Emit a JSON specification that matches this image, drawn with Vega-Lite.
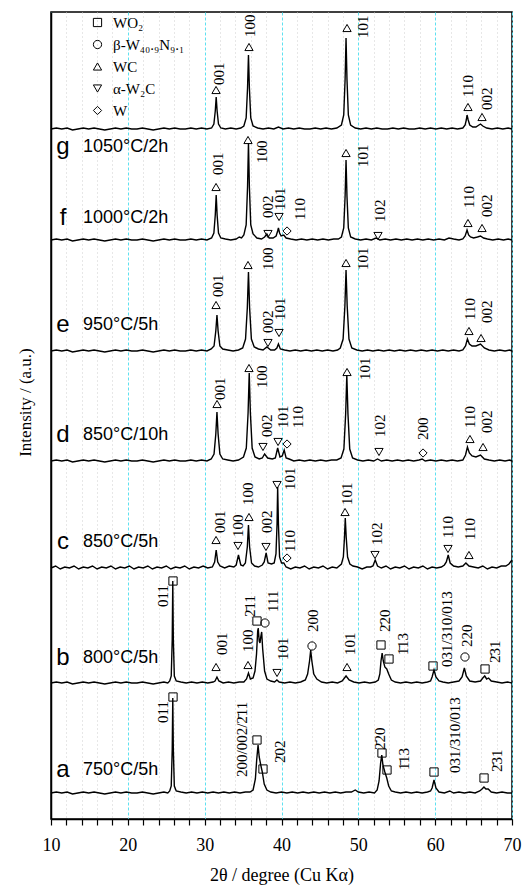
{
"$schema": "https://vega.github.io/schema/vega-lite/v6.json",
"width": 461, "height": 807,
"autosize": {"type": "none"},
"padding": {"left": 51, "top": 12, "right": 10, "bottom": 67},
"background": "white",
"config": {"view": {"stroke": "black", "strokeWidth": 1.5}, "font": "Liberation Serif"},
"datasets": {
"xrd": [
{"s":"g","x":10,"y":690},{"s":"g","x":10.7,"y":691},{"s":"g","x":11.4,"y":690},{"s":"g","x":12.1,"y":691},{"s":"g","x":12.8,"y":689},{"s":"g","x":13.5,"y":690},{"s":"g","x":14.2,"y":691},{"s":"g","x":14.9,"y":690},{"s":"g","x":15.6,"y":691},{"s":"g","x":16.3,"y":690},{"s":"g","x":17,"y":689},{"s":"g","x":17.7,"y":690},{"s":"g","x":18.4,"y":691},{"s":"g","x":19.1,"y":690},{"s":"g","x":19.8,"y":691},{"s":"g","x":20.5,"y":690},{"s":"g","x":21.2,"y":690},{"s":"g","x":21.9,"y":691},{"s":"g","x":22.6,"y":690},{"s":"g","x":23.3,"y":689},{"s":"g","x":24,"y":690},{"s":"g","x":24.7,"y":691},{"s":"g","x":25.4,"y":690},{"s":"g","x":26.1,"y":691},{"s":"g","x":26.8,"y":690},{"s":"g","x":27.5,"y":690},{"s":"g","x":28.2,"y":691},{"s":"g","x":28.9,"y":690},{"s":"g","x":29.6,"y":691},{"s":"g","x":30.3,"y":690},{"s":"g","x":30.9,"y":691},{"s":"g","x":31.2,"y":695},{"s":"g","x":31.38,"y":708},{"s":"g","x":31.5,"y":722},{"s":"g","x":31.62,"y":708},{"s":"g","x":31.8,"y":695},{"s":"g","x":32.1,"y":691},{"s":"g","x":32.7,"y":690},{"s":"g","x":33.4,"y":691},{"s":"g","x":34.1,"y":690},{"s":"g","x":34.7,"y":691},{"s":"g","x":35.1,"y":693},{"s":"g","x":35.4,"y":701},{"s":"g","x":35.58,"y":731},{"s":"g","x":35.7,"y":764},{"s":"g","x":35.82,"y":731},{"s":"g","x":36.0,"y":701},{"s":"g","x":36.3,"y":693},{"s":"g","x":36.9,"y":691},{"s":"g","x":37.6,"y":690},{"s":"g","x":38.3,"y":691},{"s":"g","x":39.0,"y":690},{"s":"g","x":39.6,"y":692},{"s":"g","x":40.2,"y":690},{"s":"g","x":40.9,"y":691},{"s":"g","x":41.6,"y":690},{"s":"g","x":42.3,"y":691},{"s":"g","x":43,"y":690},{"s":"g","x":43.7,"y":690},{"s":"g","x":44.4,"y":691},{"s":"g","x":45.1,"y":690},{"s":"g","x":45.8,"y":691},{"s":"g","x":46.5,"y":690},{"s":"g","x":47.2,"y":691},{"s":"g","x":47.8,"y":694},{"s":"g","x":48.1,"y":704},{"s":"g","x":48.28,"y":740},{"s":"g","x":48.4,"y":781},{"s":"g","x":48.52,"y":740},{"s":"g","x":48.7,"y":704},{"s":"g","x":49.0,"y":694},{"s":"g","x":49.6,"y":691},{"s":"g","x":50.3,"y":690},{"s":"g","x":51,"y":691},{"s":"g","x":51.7,"y":690},{"s":"g","x":52.4,"y":691},{"s":"g","x":53.1,"y":690},{"s":"g","x":53.8,"y":690},{"s":"g","x":54.5,"y":691},{"s":"g","x":55.2,"y":690},{"s":"g","x":55.9,"y":691},{"s":"g","x":56.6,"y":690},{"s":"g","x":57.3,"y":690},{"s":"g","x":58,"y":691},{"s":"g","x":58.7,"y":690},{"s":"g","x":59.4,"y":691},{"s":"g","x":60.1,"y":690},{"s":"g","x":60.8,"y":691},{"s":"g","x":61.5,"y":690},{"s":"g","x":62.2,"y":691},{"s":"g","x":62.9,"y":690},{"s":"g","x":63.6,"y":691},{"s":"g","x":63.9,"y":694},{"s":"g","x":64.05,"y":699},{"s":"g","x":64.15,"y":704},{"s":"g","x":64.3,"y":699},{"s":"g","x":64.5,"y":694},{"s":"g","x":64.9,"y":692},{"s":"g","x":65.3,"y":692},{"s":"g","x":65.7,"y":694},{"s":"g","x":65.9,"y":695},{"s":"g","x":66.2,"y":693},{"s":"g","x":66.7,"y":691},{"s":"g","x":67.4,"y":690},{"s":"g","x":68.1,"y":691},{"s":"g","x":68.8,"y":690},{"s":"g","x":69.5,"y":691},{"s":"g","x":70,"y":690},
{"s":"f","x":10,"y":579},{"s":"f","x":10.7,"y":580},{"s":"f","x":11.4,"y":579},{"s":"f","x":12.1,"y":580},{"s":"f","x":12.8,"y":578},{"s":"f","x":13.5,"y":579},{"s":"f","x":14.2,"y":580},{"s":"f","x":14.9,"y":579},{"s":"f","x":15.6,"y":580},{"s":"f","x":16.3,"y":579},{"s":"f","x":17,"y":578},{"s":"f","x":17.7,"y":579},{"s":"f","x":18.4,"y":580},{"s":"f","x":19.1,"y":579},{"s":"f","x":19.8,"y":580},{"s":"f","x":20.5,"y":579},{"s":"f","x":21.2,"y":579},{"s":"f","x":21.9,"y":580},{"s":"f","x":22.6,"y":579},{"s":"f","x":23.3,"y":578},{"s":"f","x":24,"y":579},{"s":"f","x":24.7,"y":580},{"s":"f","x":25.4,"y":579},{"s":"f","x":26.1,"y":580},{"s":"f","x":26.8,"y":579},{"s":"f","x":27.5,"y":579},{"s":"f","x":28.2,"y":580},{"s":"f","x":28.9,"y":579},{"s":"f","x":29.6,"y":580},{"s":"f","x":30.3,"y":579},{"s":"f","x":30.9,"y":581},{"s":"f","x":31.2,"y":586},{"s":"f","x":31.38,"y":604},{"s":"f","x":31.5,"y":624},{"s":"f","x":31.62,"y":604},{"s":"f","x":31.8,"y":586},{"s":"f","x":32.1,"y":581},{"s":"f","x":32.7,"y":580},{"s":"f","x":33.4,"y":579},{"s":"f","x":34.1,"y":580},{"s":"f","x":34.5,"y":582},{"s":"f","x":34.8,"y":581},{"s":"f","x":35.1,"y":584},{"s":"f","x":35.4,"y":594},{"s":"f","x":35.58,"y":632},{"s":"f","x":35.7,"y":676},{"s":"f","x":35.82,"y":632},{"s":"f","x":36.0,"y":594},{"s":"f","x":36.3,"y":585},{"s":"f","x":36.8,"y":581},{"s":"f","x":37.4,"y":580},{"s":"f","x":37.8,"y":582},{"s":"f","x":38.1,"y":585},{"s":"f","x":38.4,"y":581},{"s":"f","x":38.9,"y":581},{"s":"f","x":39.3,"y":583},{"s":"f","x":39.5,"y":588},{"s":"f","x":39.6,"y":591},{"s":"f","x":39.75,"y":586},{"s":"f","x":39.95,"y":583},{"s":"f","x":40.3,"y":584},{"s":"f","x":40.6,"y":581},{"s":"f","x":41.2,"y":580},{"s":"f","x":41.9,"y":579},{"s":"f","x":42.6,"y":580},{"s":"f","x":43.3,"y":579},{"s":"f","x":44,"y":580},{"s":"f","x":44.7,"y":579},{"s":"f","x":45.4,"y":580},{"s":"f","x":46.1,"y":579},{"s":"f","x":46.8,"y":580},{"s":"f","x":47.4,"y":580},{"s":"f","x":47.8,"y":582},{"s":"f","x":48.1,"y":591},{"s":"f","x":48.28,"y":623},{"s":"f","x":48.4,"y":659},{"s":"f","x":48.52,"y":623},{"s":"f","x":48.7,"y":591},{"s":"f","x":49.0,"y":582},{"s":"f","x":49.6,"y":580},{"s":"f","x":50.3,"y":579},{"s":"f","x":51,"y":580},{"s":"f","x":51.7,"y":579},{"s":"f","x":52.3,"y":581},{"s":"f","x":52.8,"y":579},{"s":"f","x":53.5,"y":580},{"s":"f","x":54.2,"y":579},{"s":"f","x":54.9,"y":580},{"s":"f","x":55.6,"y":579},{"s":"f","x":56.3,"y":580},{"s":"f","x":57,"y":579},{"s":"f","x":57.7,"y":580},{"s":"f","x":58.4,"y":579},{"s":"f","x":59.1,"y":580},{"s":"f","x":59.8,"y":579},{"s":"f","x":60.5,"y":580},{"s":"f","x":61.2,"y":579},{"s":"f","x":61.8,"y":581},{"s":"f","x":62.4,"y":580},{"s":"f","x":63.1,"y":579},{"s":"f","x":63.6,"y":580},{"s":"f","x":63.9,"y":583},{"s":"f","x":64.15,"y":589},{"s":"f","x":64.35,"y":584},{"s":"f","x":64.6,"y":582},{"s":"f","x":65.0,"y":581},{"s":"f","x":65.5,"y":582},{"s":"f","x":65.9,"y":583},{"s":"f","x":66.3,"y":581},{"s":"f","x":66.8,"y":580},{"s":"f","x":67.5,"y":579},{"s":"f","x":68.2,"y":580},{"s":"f","x":68.9,"y":579},{"s":"f","x":69.5,"y":580},{"s":"f","x":70,"y":579},
{"s":"e","x":10,"y":468},{"s":"e","x":10.7,"y":469},{"s":"e","x":11.4,"y":468},{"s":"e","x":12.1,"y":469},{"s":"e","x":12.8,"y":467},{"s":"e","x":13.5,"y":468},{"s":"e","x":14.2,"y":469},{"s":"e","x":14.9,"y":468},{"s":"e","x":15.6,"y":469},{"s":"e","x":16.3,"y":468},{"s":"e","x":17,"y":467},{"s":"e","x":17.7,"y":468},{"s":"e","x":18.4,"y":469},{"s":"e","x":19.1,"y":468},{"s":"e","x":19.8,"y":469},{"s":"e","x":20.5,"y":468},{"s":"e","x":21.2,"y":468},{"s":"e","x":21.9,"y":469},{"s":"e","x":22.6,"y":468},{"s":"e","x":23.3,"y":467},{"s":"e","x":24,"y":468},{"s":"e","x":24.7,"y":469},{"s":"e","x":25.4,"y":468},{"s":"e","x":26.1,"y":469},{"s":"e","x":26.8,"y":468},{"s":"e","x":27.5,"y":468},{"s":"e","x":28.2,"y":469},{"s":"e","x":28.9,"y":468},{"s":"e","x":29.6,"y":469},{"s":"e","x":30.3,"y":468},{"s":"e","x":30.85,"y":470},{"s":"e","x":31.22,"y":473},{"s":"e","x":31.45,"y":488},{"s":"e","x":31.6,"y":504},{"s":"e","x":31.75,"y":488},{"s":"e","x":31.98,"y":473},{"s":"e","x":32.35,"y":470},{"s":"e","x":33,"y":469},{"s":"e","x":33.7,"y":468},{"s":"e","x":34.4,"y":469},{"s":"e","x":34.95,"y":471},{"s":"e","x":35.32,"y":480},{"s":"e","x":35.55,"y":511},{"s":"e","x":35.7,"y":547},{"s":"e","x":35.85,"y":511},{"s":"e","x":36.08,"y":480},{"s":"e","x":36.45,"y":472},{"s":"e","x":37,"y":470},{"s":"e","x":37.6,"y":469},{"s":"e","x":38.1,"y":472},{"s":"e","x":38.6,"y":469},{"s":"e","x":39.1,"y":469},{"s":"e","x":39.4,"y":471},{"s":"e","x":39.6,"y":475},{"s":"e","x":39.85,"y":470},{"s":"e","x":40.4,"y":469},{"s":"e","x":41.1,"y":468},{"s":"e","x":41.8,"y":469},{"s":"e","x":42.5,"y":468},{"s":"e","x":43.2,"y":469},{"s":"e","x":43.9,"y":468},{"s":"e","x":44.6,"y":469},{"s":"e","x":45.3,"y":468},{"s":"e","x":46,"y":469},{"s":"e","x":46.7,"y":468},{"s":"e","x":47.3,"y":469},{"s":"e","x":47.65,"y":471},{"s":"e","x":48.02,"y":480},{"s":"e","x":48.25,"y":513},{"s":"e","x":48.4,"y":549},{"s":"e","x":48.55,"y":513},{"s":"e","x":48.78,"y":480},{"s":"e","x":49.15,"y":471},{"s":"e","x":49.8,"y":469},{"s":"e","x":50.5,"y":468},{"s":"e","x":51.2,"y":469},{"s":"e","x":51.9,"y":468},{"s":"e","x":52.6,"y":469},{"s":"e","x":53.3,"y":468},{"s":"e","x":54,"y":469},{"s":"e","x":54.7,"y":468},{"s":"e","x":55.4,"y":469},{"s":"e","x":56.1,"y":468},{"s":"e","x":56.8,"y":469},{"s":"e","x":57.5,"y":468},{"s":"e","x":58.2,"y":469},{"s":"e","x":58.9,"y":468},{"s":"e","x":59.6,"y":469},{"s":"e","x":60.3,"y":468},{"s":"e","x":61,"y":469},{"s":"e","x":61.7,"y":468},{"s":"e","x":62.4,"y":469},{"s":"e","x":63.1,"y":468},{"s":"e","x":63.6,"y":469},{"s":"e","x":63.95,"y":473},{"s":"e","x":64.2,"y":480},{"s":"e","x":64.45,"y":475},{"s":"e","x":64.8,"y":473},{"s":"e","x":65.3,"y":473},{"s":"e","x":65.9,"y":475},{"s":"e","x":66.4,"y":471},{"s":"e","x":67,"y":469},{"s":"e","x":67.7,"y":468},{"s":"e","x":68.4,"y":469},{"s":"e","x":69.1,"y":468},{"s":"e","x":69.7,"y":469},{"s":"e","x":70,"y":468},
{"s":"d","x":10,"y":358},{"s":"d","x":10.7,"y":359},{"s":"d","x":11.4,"y":358},{"s":"d","x":12.1,"y":359},{"s":"d","x":12.8,"y":357},{"s":"d","x":13.5,"y":358},{"s":"d","x":14.2,"y":359},{"s":"d","x":14.9,"y":358},{"s":"d","x":15.6,"y":359},{"s":"d","x":16.3,"y":358},{"s":"d","x":17,"y":357},{"s":"d","x":17.7,"y":358},{"s":"d","x":18.4,"y":359},{"s":"d","x":19.1,"y":358},{"s":"d","x":19.8,"y":359},{"s":"d","x":20.5,"y":358},{"s":"d","x":21.2,"y":358},{"s":"d","x":21.9,"y":359},{"s":"d","x":22.6,"y":358},{"s":"d","x":23.3,"y":357},{"s":"d","x":24,"y":358},{"s":"d","x":24.7,"y":359},{"s":"d","x":25.4,"y":358},{"s":"d","x":26.1,"y":359},{"s":"d","x":26.8,"y":358},{"s":"d","x":27.5,"y":358},{"s":"d","x":28.2,"y":359},{"s":"d","x":28.9,"y":358},{"s":"d","x":29.6,"y":359},{"s":"d","x":30.3,"y":358},{"s":"d","x":30.85,"y":360},{"s":"d","x":31.22,"y":365},{"s":"d","x":31.45,"y":385},{"s":"d","x":31.6,"y":407},{"s":"d","x":31.75,"y":385},{"s":"d","x":31.98,"y":365},{"s":"d","x":32.35,"y":360},{"s":"d","x":33,"y":359},{"s":"d","x":33.7,"y":358},{"s":"d","x":34.4,"y":359},{"s":"d","x":35.05,"y":362},{"s":"d","x":35.42,"y":371},{"s":"d","x":35.65,"y":406},{"s":"d","x":35.8,"y":446},{"s":"d","x":35.95,"y":406},{"s":"d","x":36.18,"y":371},{"s":"d","x":36.55,"y":362},{"s":"d","x":37.1,"y":360},{"s":"d","x":37.5,"y":361},{"s":"d","x":37.8,"y":365},{"s":"d","x":38.2,"y":361},{"s":"d","x":38.8,"y":360},{"s":"d","x":39.2,"y":361},{"s":"d","x":39.5,"y":371},{"s":"d","x":39.8,"y":362},{"s":"d","x":40.1,"y":363},{"s":"d","x":40.35,"y":369},{"s":"d","x":40.6,"y":361},{"s":"d","x":41,"y":360},{"s":"d","x":41.6,"y":358},{"s":"d","x":42.3,"y":359},{"s":"d","x":43,"y":358},{"s":"d","x":43.7,"y":359},{"s":"d","x":44.4,"y":358},{"s":"d","x":45.1,"y":359},{"s":"d","x":45.8,"y":358},{"s":"d","x":46.5,"y":359},{"s":"d","x":47.2,"y":359},{"s":"d","x":47.75,"y":361},{"s":"d","x":48.12,"y":370},{"s":"d","x":48.35,"y":405},{"s":"d","x":48.5,"y":444},{"s":"d","x":48.65,"y":405},{"s":"d","x":48.88,"y":370},{"s":"d","x":49.25,"y":361},{"s":"d","x":49.9,"y":359},{"s":"d","x":50.6,"y":358},{"s":"d","x":51.3,"y":359},{"s":"d","x":52,"y":358},{"s":"d","x":52.5,"y":360},{"s":"d","x":53,"y":358},{"s":"d","x":53.7,"y":359},{"s":"d","x":54.4,"y":358},{"s":"d","x":55.1,"y":359},{"s":"d","x":55.8,"y":358},{"s":"d","x":56.5,"y":359},{"s":"d","x":57.2,"y":358},{"s":"d","x":57.9,"y":359},{"s":"d","x":58.3,"y":360},{"s":"d","x":58.7,"y":358},{"s":"d","x":59.4,"y":359},{"s":"d","x":60.1,"y":358},{"s":"d","x":60.8,"y":359},{"s":"d","x":61.5,"y":358},{"s":"d","x":62.2,"y":359},{"s":"d","x":62.9,"y":358},{"s":"d","x":63.6,"y":359},{"s":"d","x":63.95,"y":364},{"s":"d","x":64.2,"y":372},{"s":"d","x":64.45,"y":366},{"s":"d","x":64.8,"y":363},{"s":"d","x":65.3,"y":362},{"s":"d","x":65.9,"y":364},{"s":"d","x":66.4,"y":360},{"s":"d","x":67,"y":359},{"s":"d","x":67.7,"y":358},{"s":"d","x":68.4,"y":359},{"s":"d","x":69.1,"y":358},{"s":"d","x":69.7,"y":359},{"s":"d","x":70,"y":358},
{"s":"c","x":10,"y":251},{"s":"c","x":10.6,"y":253},{"s":"c","x":11.2,"y":250},{"s":"c","x":11.8,"y":252},{"s":"c","x":12.4,"y":251},{"s":"c","x":13,"y":253},{"s":"c","x":13.6,"y":250},{"s":"c","x":14.2,"y":252},{"s":"c","x":14.8,"y":251},{"s":"c","x":15.4,"y":253},{"s":"c","x":16,"y":250},{"s":"c","x":16.6,"y":252},{"s":"c","x":17.2,"y":251},{"s":"c","x":17.8,"y":253},{"s":"c","x":18.4,"y":250},{"s":"c","x":19,"y":252},{"s":"c","x":19.6,"y":251},{"s":"c","x":20.2,"y":253},{"s":"c","x":20.8,"y":250},{"s":"c","x":21.4,"y":252},{"s":"c","x":22,"y":251},{"s":"c","x":22.6,"y":253},{"s":"c","x":23.2,"y":250},{"s":"c","x":23.8,"y":252},{"s":"c","x":24.4,"y":251},{"s":"c","x":25,"y":253},{"s":"c","x":25.6,"y":250},{"s":"c","x":26.2,"y":252},{"s":"c","x":26.8,"y":251},{"s":"c","x":27.4,"y":253},{"s":"c","x":28,"y":250},{"s":"c","x":28.6,"y":252},{"s":"c","x":29.2,"y":251},{"s":"c","x":29.8,"y":253},{"s":"c","x":30.4,"y":251},{"s":"c","x":31.0,"y":252},{"s":"c","x":31.3,"y":257},{"s":"c","x":31.5,"y":269},{"s":"c","x":31.7,"y":257},{"s":"c","x":32.0,"y":253},{"s":"c","x":32.6,"y":251},{"s":"c","x":33.2,"y":253},{"s":"c","x":33.8,"y":252},{"s":"c","x":34.1,"y":254},{"s":"c","x":34.4,"y":264},{"s":"c","x":34.7,"y":254},{"s":"c","x":35.0,"y":253},{"s":"c","x":35.3,"y":256},{"s":"c","x":35.55,"y":272},{"s":"c","x":35.7,"y":294},{"s":"c","x":35.85,"y":272},{"s":"c","x":36.1,"y":256},{"s":"c","x":36.5,"y":253},{"s":"c","x":37.0,"y":252},{"s":"c","x":37.5,"y":254},{"s":"c","x":37.75,"y":257},{"s":"c","x":38.0,"y":266},{"s":"c","x":38.25,"y":256},{"s":"c","x":38.7,"y":255},{"s":"c","x":39.05,"y":256},{"s":"c","x":39.28,"y":265},{"s":"c","x":39.42,"y":295},{"s":"c","x":39.5,"y":332},{"s":"c","x":39.6,"y":295},{"s":"c","x":39.75,"y":262},{"s":"c","x":40.0,"y":256},{"s":"c","x":40.3,"y":256},{"s":"c","x":40.6,"y":252},{"s":"c","x":41.2,"y":250},{"s":"c","x":41.8,"y":252},{"s":"c","x":42.4,"y":251},{"s":"c","x":43,"y":253},{"s":"c","x":43.6,"y":250},{"s":"c","x":44.2,"y":252},{"s":"c","x":44.8,"y":251},{"s":"c","x":45.4,"y":253},{"s":"c","x":46,"y":250},{"s":"c","x":46.6,"y":252},{"s":"c","x":47.2,"y":251},{"s":"c","x":47.8,"y":255},{"s":"c","x":48.05,"y":262},{"s":"c","x":48.2,"y":282},{"s":"c","x":48.3,"y":301},{"s":"c","x":48.42,"y":282},{"s":"c","x":48.6,"y":262},{"s":"c","x":48.9,"y":255},{"s":"c","x":49.3,"y":253},{"s":"c","x":49.9,"y":252},{"s":"c","x":50.5,"y":250},{"s":"c","x":51.1,"y":252},{"s":"c","x":51.6,"y":252},{"s":"c","x":51.9,"y":253},{"s":"c","x":52.2,"y":259},{"s":"c","x":52.5,"y":253},{"s":"c","x":53,"y":251},{"s":"c","x":53.6,"y":253},{"s":"c","x":54.2,"y":250},{"s":"c","x":54.8,"y":252},{"s":"c","x":55.4,"y":251},{"s":"c","x":56,"y":253},{"s":"c","x":56.6,"y":250},{"s":"c","x":57.2,"y":252},{"s":"c","x":57.8,"y":251},{"s":"c","x":58.4,"y":253},{"s":"c","x":59,"y":250},{"s":"c","x":59.6,"y":252},{"s":"c","x":60.2,"y":251},{"s":"c","x":60.8,"y":252},{"s":"c","x":61.2,"y":254},{"s":"c","x":61.45,"y":257},{"s":"c","x":61.7,"y":264},{"s":"c","x":61.95,"y":256},{"s":"c","x":62.4,"y":253},{"s":"c","x":63,"y":252},{"s":"c","x":63.6,"y":253},{"s":"c","x":64.0,"y":256},{"s":"c","x":64.4,"y":253},{"s":"c","x":65,"y":252},{"s":"c","x":65.6,"y":251},{"s":"c","x":66.2,"y":253},{"s":"c","x":66.8,"y":250},{"s":"c","x":67.4,"y":252},{"s":"c","x":68,"y":251},{"s":"c","x":68.6,"y":253},{"s":"c","x":69.2,"y":253},{"s":"c","x":69.6,"y":255},{"s":"c","x":70,"y":259},
{"s":"b","x":10,"y":136},{"s":"b","x":10.7,"y":137},{"s":"b","x":11.4,"y":136},{"s":"b","x":12.1,"y":137},{"s":"b","x":12.8,"y":135},{"s":"b","x":13.5,"y":136},{"s":"b","x":14.2,"y":137},{"s":"b","x":14.9,"y":136},{"s":"b","x":15.6,"y":137},{"s":"b","x":16.3,"y":136},{"s":"b","x":17,"y":135},{"s":"b","x":17.7,"y":136},{"s":"b","x":18.4,"y":137},{"s":"b","x":19.1,"y":136},{"s":"b","x":19.8,"y":137},{"s":"b","x":20.5,"y":136},{"s":"b","x":21.2,"y":136},{"s":"b","x":21.9,"y":137},{"s":"b","x":22.6,"y":136},{"s":"b","x":23.3,"y":135},{"s":"b","x":24,"y":136},{"s":"b","x":24.7,"y":137},{"s":"b","x":25.2,"y":136},{"s":"b","x":25.45,"y":138},{"s":"b","x":25.65,"y":143},{"s":"b","x":25.78,"y":180},{"s":"b","x":25.85,"y":238},{"s":"b","x":25.92,"y":180},{"s":"b","x":26.05,"y":143},{"s":"b","x":26.3,"y":138},{"s":"b","x":26.9,"y":137},{"s":"b","x":27.6,"y":136},{"s":"b","x":28.3,"y":137},{"s":"b","x":29,"y":136},{"s":"b","x":29.7,"y":137},{"s":"b","x":30.4,"y":136},{"s":"b","x":31.1,"y":137},{"s":"b","x":31.35,"y":138},{"s":"b","x":31.6,"y":142},{"s":"b","x":31.85,"y":138},{"s":"b","x":32.4,"y":136},{"s":"b","x":33.1,"y":137},{"s":"b","x":33.8,"y":136},{"s":"b","x":34.5,"y":137},{"s":"b","x":35.1,"y":137},{"s":"b","x":35.45,"y":140},{"s":"b","x":35.7,"y":146},{"s":"b","x":35.95,"y":140},{"s":"b","x":36.3,"y":141},{"s":"b","x":36.55,"y":148},{"s":"b","x":36.75,"y":165},{"s":"b","x":36.9,"y":188},{"s":"b","x":36.97,"y":191},{"s":"b","x":37.1,"y":178},{"s":"b","x":37.2,"y":176},{"s":"b","x":37.3,"y":182},{"s":"b","x":37.42,"y":187},{"s":"b","x":37.55,"y":170},{"s":"b","x":37.8,"y":148},{"s":"b","x":38.1,"y":140},{"s":"b","x":38.6,"y":138},{"s":"b","x":39.1,"y":137},{"s":"b","x":39.4,"y":139},{"s":"b","x":39.7,"y":137},{"s":"b","x":40.4,"y":136},{"s":"b","x":41.1,"y":137},{"s":"b","x":41.8,"y":136},{"s":"b","x":42.5,"y":137},{"s":"b","x":43.1,"y":139},{"s":"b","x":43.4,"y":145},{"s":"b","x":43.65,"y":158},{"s":"b","x":43.8,"y":169},{"s":"b","x":43.95,"y":158},{"s":"b","x":44.2,"y":145},{"s":"b","x":44.6,"y":140},{"s":"b","x":45.2,"y":137},{"s":"b","x":45.9,"y":136},{"s":"b","x":46.6,"y":137},{"s":"b","x":47.3,"y":136},{"s":"b","x":47.9,"y":138},{"s":"b","x":48.4,"y":143},{"s":"b","x":48.8,"y":139},{"s":"b","x":49.4,"y":137},{"s":"b","x":50.1,"y":136},{"s":"b","x":50.8,"y":137},{"s":"b","x":51.5,"y":136},{"s":"b","x":52.2,"y":137},{"s":"b","x":52.6,"y":139},{"s":"b","x":52.8,"y":145},{"s":"b","x":52.95,"y":158},{"s":"b","x":53.1,"y":166},{"s":"b","x":53.25,"y":158},{"s":"b","x":53.45,"y":152},{"s":"b","x":53.7,"y":150},{"s":"b","x":53.95,"y":145},{"s":"b","x":54.3,"y":139},{"s":"b","x":54.8,"y":137},{"s":"b","x":55.5,"y":136},{"s":"b","x":56.2,"y":137},{"s":"b","x":56.9,"y":136},{"s":"b","x":57.6,"y":137},{"s":"b","x":58.3,"y":136},{"s":"b","x":59,"y":137},{"s":"b","x":59.4,"y":138},{"s":"b","x":59.6,"y":142},{"s":"b","x":59.85,"y":149},{"s":"b","x":60.1,"y":142},{"s":"b","x":60.5,"y":138},{"s":"b","x":61,"y":137},{"s":"b","x":61.7,"y":136},{"s":"b","x":62.4,"y":137},{"s":"b","x":63.1,"y":138},{"s":"b","x":63.5,"y":142},{"s":"b","x":63.8,"y":151},{"s":"b","x":64.05,"y":143},{"s":"b","x":64.5,"y":138},{"s":"b","x":65.2,"y":137},{"s":"b","x":65.9,"y":138},{"s":"b","x":66.2,"y":141},{"s":"b","x":66.45,"y":143},{"s":"b","x":66.7,"y":140},{"s":"b","x":66.95,"y":141},{"s":"b","x":67.3,"y":138},{"s":"b","x":68,"y":137},{"s":"b","x":68.7,"y":136},{"s":"b","x":69.4,"y":137},{"s":"b","x":70,"y":136},
{"s":"a","x":10,"y":26},{"s":"a","x":10.7,"y":27},{"s":"a","x":11.4,"y":26},{"s":"a","x":12.1,"y":27},{"s":"a","x":12.8,"y":25},{"s":"a","x":13.5,"y":26},{"s":"a","x":14.2,"y":27},{"s":"a","x":14.9,"y":26},{"s":"a","x":15.6,"y":27},{"s":"a","x":16.3,"y":26},{"s":"a","x":17,"y":25},{"s":"a","x":17.7,"y":26},{"s":"a","x":18.4,"y":27},{"s":"a","x":19.1,"y":26},{"s":"a","x":19.8,"y":27},{"s":"a","x":20.5,"y":26},{"s":"a","x":21.2,"y":26},{"s":"a","x":21.9,"y":27},{"s":"a","x":22.6,"y":26},{"s":"a","x":23.3,"y":25},{"s":"a","x":24,"y":26},{"s":"a","x":24.7,"y":27},{"s":"a","x":25.2,"y":26},{"s":"a","x":25.45,"y":28},{"s":"a","x":25.65,"y":33},{"s":"a","x":25.78,"y":70},{"s":"a","x":25.85,"y":121},{"s":"a","x":25.92,"y":70},{"s":"a","x":26.05,"y":33},{"s":"a","x":26.3,"y":28},{"s":"a","x":26.9,"y":27},{"s":"a","x":27.6,"y":26},{"s":"a","x":28.3,"y":27},{"s":"a","x":29,"y":26},{"s":"a","x":29.7,"y":27},{"s":"a","x":30.4,"y":26},{"s":"a","x":31.1,"y":27},{"s":"a","x":31.8,"y":26},{"s":"a","x":32.5,"y":27},{"s":"a","x":33.2,"y":26},{"s":"a","x":33.9,"y":27},{"s":"a","x":34.6,"y":26},{"s":"a","x":35.3,"y":27},{"s":"a","x":35.9,"y":27},{"s":"a","x":36.3,"y":29},{"s":"a","x":36.6,"y":40},{"s":"a","x":36.78,"y":60},{"s":"a","x":36.95,"y":74},{"s":"a","x":37.1,"y":62},{"s":"a","x":37.3,"y":54},{"s":"a","x":37.5,"y":47},{"s":"a","x":37.75,"y":35},{"s":"a","x":38.1,"y":29},{"s":"a","x":38.6,"y":27},{"s":"a","x":39.3,"y":26},{"s":"a","x":40,"y":27},{"s":"a","x":40.7,"y":26},{"s":"a","x":41.4,"y":27},{"s":"a","x":42.1,"y":26},{"s":"a","x":42.8,"y":27},{"s":"a","x":43.5,"y":26},{"s":"a","x":44.2,"y":27},{"s":"a","x":44.9,"y":26},{"s":"a","x":45.6,"y":27},{"s":"a","x":46.3,"y":26},{"s":"a","x":47,"y":27},{"s":"a","x":47.7,"y":26},{"s":"a","x":48.4,"y":27},{"s":"a","x":49.1,"y":27},{"s":"a","x":49.6,"y":29},{"s":"a","x":50.0,"y":27},{"s":"a","x":50.7,"y":26},{"s":"a","x":51.4,"y":27},{"s":"a","x":52.1,"y":26},{"s":"a","x":52.45,"y":29},{"s":"a","x":52.7,"y":38},{"s":"a","x":52.9,"y":56},{"s":"a","x":53.05,"y":64},{"s":"a","x":53.2,"y":54},{"s":"a","x":53.45,"y":47},{"s":"a","x":53.7,"y":41},{"s":"a","x":53.95,"y":33},{"s":"a","x":54.3,"y":28},{"s":"a","x":54.8,"y":27},{"s":"a","x":55.5,"y":26},{"s":"a","x":56.2,"y":27},{"s":"a","x":56.9,"y":26},{"s":"a","x":57.6,"y":27},{"s":"a","x":58.3,"y":26},{"s":"a","x":59,"y":27},{"s":"a","x":59.4,"y":28},{"s":"a","x":59.6,"y":31},{"s":"a","x":59.85,"y":39},{"s":"a","x":60.1,"y":31},{"s":"a","x":60.5,"y":27},{"s":"a","x":61.2,"y":26},{"s":"a","x":61.9,"y":28},{"s":"a","x":62.4,"y":26},{"s":"a","x":63.1,"y":27},{"s":"a","x":63.8,"y":26},{"s":"a","x":64.5,"y":27},{"s":"a","x":65.2,"y":26},{"s":"a","x":65.8,"y":28},{"s":"a","x":66.1,"y":30},{"s":"a","x":66.35,"y":32},{"s":"a","x":66.6,"y":30},{"s":"a","x":66.9,"y":30},{"s":"a","x":67.3,"y":27},{"s":"a","x":68,"y":26},{"s":"a","x":68.7,"y":27},{"s":"a","x":69.4,"y":26},{"s":"a","x":70,"y":26}
],
"mk": [
{"p":"WC","x":31.48,"y":729},{"p":"WC","x":35.77,"y":772},{"p":"WC","x":48.53,"y":791},{"p":"WC","x":64.27,"y":712},{"p":"WC","x":66.1,"y":702},
{"p":"WC","x":31.48,"y":632},{"p":"WC","x":35.64,"y":679},{"p":"α-W₂C","x":38.24,"y":585},{"p":"α-W₂C","x":39.68,"y":602},{"p":"W","x":40.72,"y":588},{"p":"WC","x":48.4,"y":666},{"p":"α-W₂C","x":52.56,"y":583},{"p":"WC","x":64.27,"y":596},{"p":"WC","x":66.1,"y":591},
{"p":"WC","x":31.48,"y":514},{"p":"WC","x":35.64,"y":554},{"p":"α-W₂C","x":38.24,"y":476},{"p":"α-W₂C","x":39.68,"y":486},{"p":"WC","x":48.4,"y":556},{"p":"WC","x":64.4,"y":488},{"p":"WC","x":65.97,"y":481},
{"p":"WC","x":31.61,"y":415},{"p":"WC","x":35.77,"y":451},{"p":"α-W₂C","x":37.59,"y":372},{"p":"α-W₂C","x":39.55,"y":377},{"p":"W","x":40.72,"y":375},{"p":"WC","x":48.53,"y":447},{"p":"α-W₂C","x":52.69,"y":367},{"p":"W","x":58.42,"y":366},{"p":"WC","x":64.53,"y":380},{"p":"WC","x":66.23,"y":372},
{"p":"WC","x":31.48,"y":279},{"p":"α-W₂C","x":34.34,"y":273},{"p":"WC","x":35.77,"y":302},{"p":"α-W₂C","x":37.98,"y":272},{"p":"α-W₂C","x":39.42,"y":334},{"p":"W","x":40.72,"y":261},{"p":"WC","x":48.27,"y":307},{"p":"α-W₂C","x":52.17,"y":264},{"p":"α-W₂C","x":61.67,"y":270},{"p":"WC","x":64.4,"y":264},
{"p":"WO₂","x":25.88,"y":238},{"p":"WC","x":31.48,"y":152},{"p":"WC","x":35.64,"y":154},{"p":"WO₂","x":36.81,"y":198},{"p":"β-W₄₀.₉N₉.₁","x":37.85,"y":196},{"p":"α-W₂C","x":39.42,"y":146},{"p":"β-W₄₀.₉N₉.₁","x":43.97,"y":173},{"p":"WC","x":48.53,"y":152},{"p":"WO₂","x":52.95,"y":174},{"p":"WO₂","x":53.99,"y":160},{"p":"WO₂","x":59.72,"y":153},{"p":"β-W₄₀.₉N₉.₁","x":63.88,"y":162},{"p":"WO₂","x":66.49,"y":150},
{"p":"WO₂","x":25.88,"y":122},{"p":"WO₂","x":36.81,"y":79},{"p":"WO₂","x":37.59,"y":50},{"p":"WO₂","x":53.08,"y":66},{"p":"WO₂","x":53.73,"y":49},{"p":"WO₂","x":59.85,"y":47},{"p":"WO₂","x":66.36,"y":41}
],
"lb": [
{"t":"001","x":31.87,"y":734},{"t":"100","x":35.9,"y":782},{"t":"101","x":50.61,"y":781},{"t":"110","x":64.27,"y":722},{"t":"002","x":66.75,"y":709},
{"t":"001","x":31.74,"y":644},{"t":"100","x":37.46,"y":656},{"t":"002","x":38.24,"y":601},{"t":"101","x":39.81,"y":609},{"t":"110","x":42.41,"y":599},{"t":"101","x":50.61,"y":652},{"t":"102","x":52.82,"y":597},{"t":"110","x":64.4,"y":611},{"t":"002","x":66.75,"y":602},
{"t":"001","x":31.74,"y":522},{"t":"100","x":38.24,"y":549},{"t":"002","x":38.24,"y":486},{"t":"101","x":39.81,"y":499},{"t":"101","x":50.61,"y":549},{"t":"110","x":64.53,"y":499},{"t":"002","x":66.75,"y":496},
{"t":"001","x":32.0,"y":419},{"t":"100","x":37.46,"y":431},{"t":"002","x":38.11,"y":382},{"t":"101","x":40.2,"y":391},{"t":"110","x":42.15,"y":391},{"t":"101","x":50.87,"y":439},{"t":"102","x":52.82,"y":382},{"t":"200","x":58.42,"y":379},{"t":"110","x":64.53,"y":391},{"t":"002","x":66.75,"y":386},
{"t":"001","x":32.0,"y":286},{"t":"100","x":34.34,"y":282},{"t":"100","x":35.64,"y":314},{"t":"002","x":38.11,"y":286},{"t":"101","x":41.11,"y":329},{"t":"110","x":41.11,"y":267},{"t":"101","x":48.53,"y":314},{"t":"102","x":52.43,"y":274},{"t":"110","x":61.67,"y":281},{"t":"110","x":64.53,"y":279},
{"t":"011","x":24.58,"y":212},{"t":"001","x":32.26,"y":164},{"t":"100","x":35.64,"y":167},{"t":"2̄11","x":35.9,"y":202},{"t":"111","x":38.89,"y":207},{"t":"101","x":40.2,"y":159},{"t":"200","x":44.1,"y":187},{"t":"101","x":48.92,"y":164},{"t":"2̄20","x":53.47,"y":187},{"t":"1̄13","x":55.81,"y":164},{"t":"031/310/013","x":61.54,"y":152},{"t":"220","x":64.14,"y":172},{"t":"2̄31","x":67.79,"y":156},
{"t":"011","x":24.58,"y":96},{"t":"200/002/2̄11","x":34.86,"y":42},{"t":"2̄02","x":39.81,"y":56},{"t":"2̄20","x":52.82,"y":69},{"t":"1̄13","x":55.94,"y":49},{"t":"031/310/013","x":62.58,"y":46},{"t":"2̄31","x":68.05,"y":47}
],
"sl": [
{"t":"g","x":11.56,"y":672},{"t":"f","x":11.56,"y":601},{"t":"e","x":11.56,"y":494},{"t":"d","x":11.56,"y":384},{"t":"c","x":11.56,"y":277},{"t":"b","x":11.56,"y":161},{"t":"a","x":11.56,"y":49}
],
"st": [
{"t":"1050°C/2h","x":14.17,"y":672},{"t":"1000°C/2h","x":14.17,"y":601},{"t":"950°C/5h","x":14.17,"y":494},{"t":"850°C/10h","x":14.17,"y":384},{"t":"850°C/5h","x":14.17,"y":277},{"t":"800°C/5h","x":14.17,"y":161},{"t":"750°C/5h","x":14.17,"y":49}
]
},
"encoding": {
"x": {"field": "x", "type": "quantitative",
 "scale": {"domain": [10, 70], "nice": false, "zero": false},
 "axis": {"values": [10,12,14,16,18,20,22,24,26,28,30,32,34,36,38,40,42,44,46,48,50,52,54,56,58,60,62,64,66,68,70],
  "labelExpr": "datum.value % 10 === 0 ? datum.label : ''",
  "title": "2θ / degree (Cu Kα)", "titleFont": "Liberation Serif", "titleFontSize": 18, "titleFontWeight": "normal", "titleColor": "black", "titleBaseline": "middle", "titleY": 56,
  "labelFont": "Liberation Serif", "labelFontSize": 18, "labelColor": "black", "labelPadding": 11, "labelFlush": false, "labelOverlap": false, "labelBound": false,
  "tickColor": "black", "tickSize": 6, "tickWidth": 1.2, "domainColor": "black", "domainWidth": 1.5,
  "grid": true,
  "gridColor": {"condition": {"test": "datum.value % 10 === 0", "value": "#5fe0f0"}, "value": "#cfcfcf"},
  "gridDash": {"condition": {"test": "datum.value % 10 === 0", "value": [3, 2]}, "value": [1, 3]},
  "gridWidth": 1}},
"y": {"field": "y", "type": "quantitative",
 "scale": {"domain": [0, 807], "nice": false, "zero": false},
 "axis": {"title": "Intensity / (a.u.)", "labels": false, "ticks": false, "grid": false, "domainColor": "black", "domainWidth": 1.5,
  "titleFont": "Liberation Serif", "titleFontSize": 17, "titleFontWeight": "normal", "titleColor": "black",
  "titleX": -26, "titleY": 390, "titleAngle": 270, "titleAlign": "center", "titleBaseline": "middle"}}
},
"layer": [
{"data": {"name": "xrd"}, "mark": {"type": "line", "color": "black", "strokeWidth": 1.4}, "encoding": {"detail": {"field": "s", "type": "nominal"}}},
{"data": {"name": "mk"}, "mark": {"type": "point", "filled": false, "color": "black", "size": 68, "strokeWidth": 1, "opacity": 1},
 "encoding": {"shape": {"field": "p", "type": "nominal",
  "scale": {"domain": ["WO₂", "β-W₄₀.₉N₉.₁", "WC", "α-W₂C", "W"], "range": ["square", "circle", "triangle-up", "triangle-down", "diamond"]},
  "legend": {"orient": "none", "legendX": 39, "legendY": 3, "title": null, "padding": 0, "rowPadding": 6, "labelOffset": 8,
   "labelFont": "Liberation Serif", "labelFontSize": 15, "labelColor": "black",
   "symbolStrokeColor": "black", "symbolFillColor": "transparent", "symbolSize": 68, "symbolStrokeWidth": 1}}}},
{"data": {"name": "lb"}, "mark": {"type": "text", "angle": 270, "align": "left", "baseline": "middle", "font": "Liberation Serif", "fontSize": 15, "color": "black"},
 "encoding": {"text": {"field": "t", "type": "nominal"}}},
{"data": {"name": "sl"}, "mark": {"type": "text", "align": "center", "baseline": "middle", "font": "Liberation Sans", "fontSize": 24, "color": "black"},
 "encoding": {"text": {"field": "t", "type": "nominal"}}},
{"data": {"name": "st"}, "mark": {"type": "text", "align": "left", "baseline": "middle", "font": "Liberation Sans", "fontSize": 18, "color": "black"},
 "encoding": {"text": {"field": "t", "type": "nominal"}}}
]
}
